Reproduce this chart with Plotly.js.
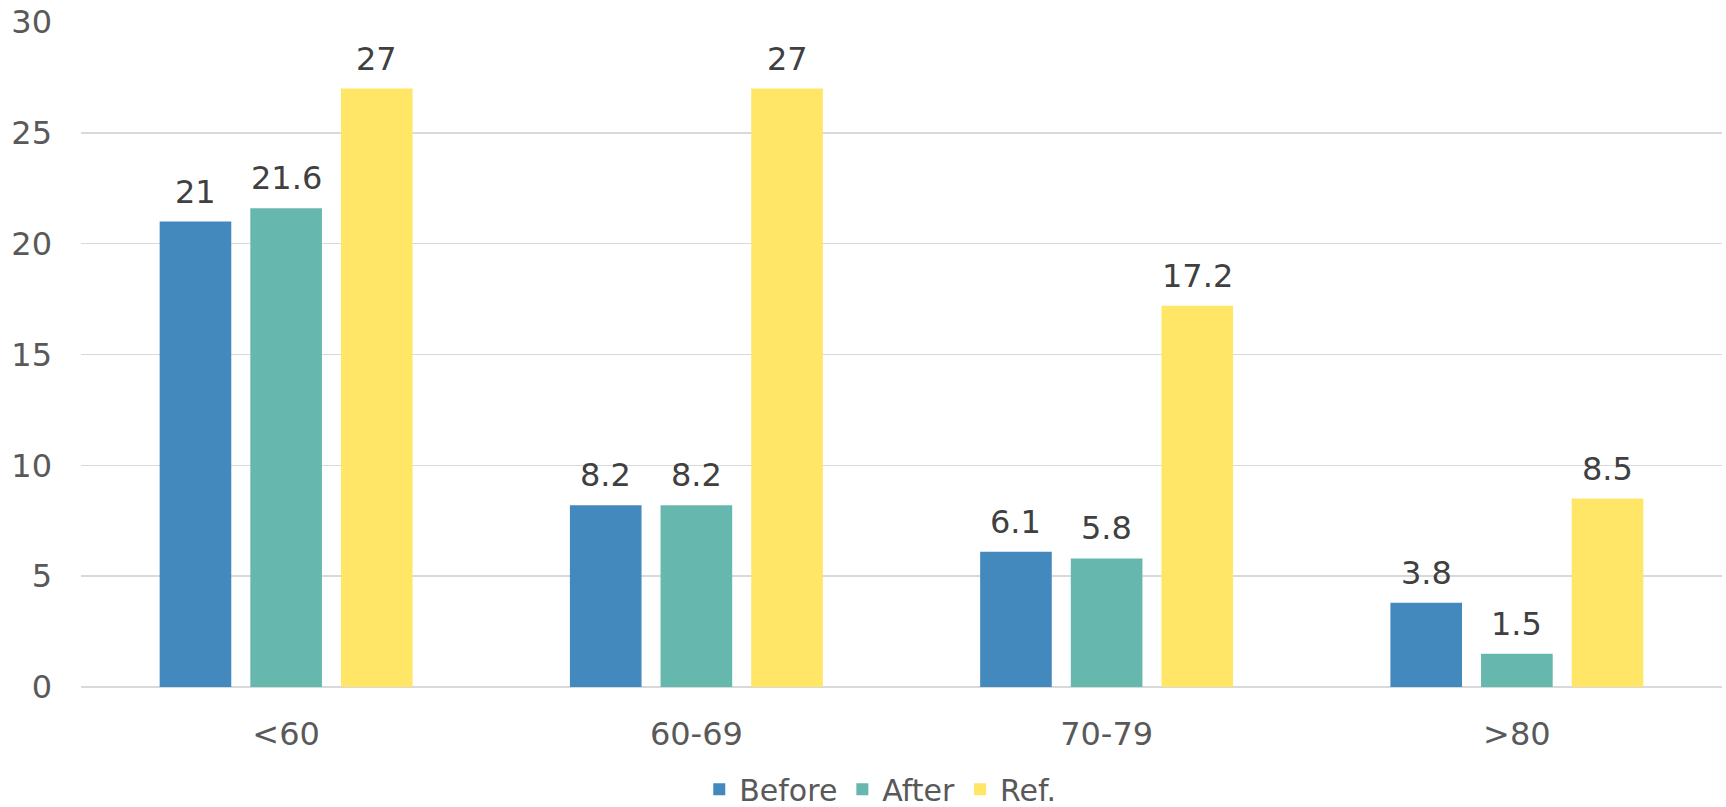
<!DOCTYPE html>
<html>
<head>
<meta charset="utf-8">
<script src="https://cdn.plot.ly/plotly-3.0.1.min.js"></script>
<style>html,body{margin:0;padding:0;background:#fff;}#chart{width:1726px;height:807px;}</style>
</head>
<body>
<div id="chart"></div>
<script>
const categories = ['<60', '60-69', '70-79', '>80'];
const seriesNames = ['Before', 'After', 'Ref.'];
const beforeValues = [21, 8.2, 6.1, 3.8];
const afterValues = [21.6, 8.2, 5.8, 1.5];
const refValues = [27, 27, 17.2, 8.5];
const yTicks = [0, 5, 10, 15, 20, 25, 30];

const colors = ['#4489BE', '#66B8AE', '#FFE666'];
const allSeries = [beforeValues, afterValues, refValues];
const FONT = 'DejaVu Sans, Verdana, sans-serif';

const traces = allSeries.map((vals, i) => ({
  type: 'bar',
  name: seriesNames[i],
  x: categories,
  y: vals,
  marker: {color: colors[i]},
  hoverinfo: 'x+y+name'
}));

const slot = 0.221;
const annotations = [];
allSeries.forEach((vals, i) => {
  vals.forEach((v, j) => {
    annotations.push({
      x: j + (i - 1) * slot, y: v, xref: 'x', yref: 'y',
      text: String(v), showarrow: false, yanchor: 'bottom', yshift: 9,
      font: {family: FONT, size: 32, color: '#404040'}
    });
  });
});

const layout = {
  width: 1726, height: 807,
  margin: {l: 81, r: 4, t: 22, b: 120},
  paper_bgcolor: '#fff', plot_bgcolor: '#fff',
  barmode: 'group', bargap: 0.337, bargroupgap: 0.21,
  font: {family: FONT, color: '#595959'},
  xaxis: {
    type: 'category', tickfont: {size: 32, color: '#595959'},
    showgrid: false, zeroline: false, showline: false, ticks: '',
    ticklabelstandoff: 25
  },
  yaxis: {
    range: [0, 30], tickvals: yTicks, ticktext: yTicks.map(String),
    tickfont: {size: 32, color: '#595959'},
    gridcolor: '#D9D9D9', gridwidth: 1.5, zeroline: true, zerolinecolor: '#D9D9D9', zerolinewidth: 1.5,
    showline: false, ticks: '', ticklabelstandoff: 28
  },
  showlegend: true,
  legend: {
    orientation: 'h', xref: 'container', x: 0.51, xanchor: 'center',
    yref: 'container', y: 0.022, yanchor: 'middle',
    font: {family: FONT, size: 30, color: '#595959'}, itemwidth: 30
  },
  annotations: annotations
};

Plotly.newPlot('chart', traces, layout, {displayModeBar: false, staticPlot: true});
</script>
</body>
</html>
